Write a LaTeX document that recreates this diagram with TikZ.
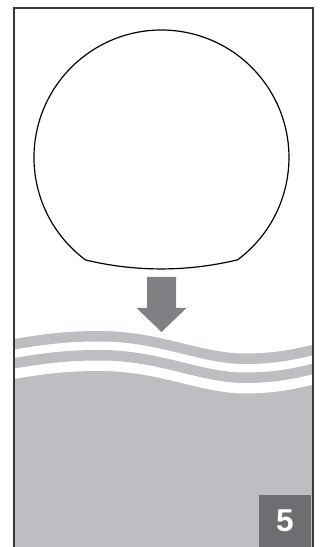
\documentclass[tikz,border=0pt]{standalone}
\usepackage{fontspec}
\usepackage{xcolor}
\usepackage{tikz}
\newfontfamily\numfont{Liberation Sans}
\definecolor{wavegray}{RGB}{189,190,194}
\definecolor{arrowgray}{RGB}{128,129,132}
\definecolor{boxgray}{RGB}{109,110,113}
\definecolor{framegray}{RGB}{55,55,57}
\newcommand{\wavefwd}[1]{(14,208-#1) .. controls (50,214-#1) and (70,216-#1) .. (100,216-#1) .. controls (160,216-#1) and (200,193.5-#1) .. (245,193.5-#1) .. controls (275,193.5-#1) and (295,198-#1) .. (313,202.3-#1)}
\newcommand{\waverev}[1]{(313,202.3-#1) .. controls (295,198-#1) and (275,193.5-#1) .. (245,193.5-#1) .. controls (200,193.5-#1) and (160,216-#1) .. (100,216-#1) .. controls (70,216-#1) and (50,214-#1) .. (14,208-#1)}

\begin{document}
\begin{tikzpicture}[x=0.025cm,y=0.025cm,
  band/.style={fill=wavegray},
  outline/.style={draw=black,line width=0.85pt},
  numtext/.style={text=white,font=\numfont\bfseries\fontsize{22.5}{24}\selectfont,inner sep=0pt}]
  \useasboundingbox (0,0) rectangle (320,547);
  \draw[outline] (237.3,287) arc[start angle=-53.5,end angle=233.5,radius=127.5]
    arc[start angle=256.5,end angle=283.5,radius=323.7] -- cycle;
  \fill[arrowgray] (147,270) -- (176,270) -- (176,239) -- (186.5,239) -- (161.5,215)
    -- (136.5,239) -- (147,239) -- cycle;
  \fill[band] \wavefwd{0} -- \waverev{10.5} -- cycle;
  \fill[band] \wavefwd{19} -- \waverev{29.5} -- cycle;
  \fill[band] \wavefwd{40} -- (313,0) -- (14,0) -- cycle;
  \fill[boxgray] (259,0) rectangle (311,52);
  \node[numtext] (num) at (285,26) {5};
  \draw[framegray,line width=1.4pt] (14,0) -- (14,539) -- (313,539) -- (313,0);
\end{tikzpicture}
\end{document}
